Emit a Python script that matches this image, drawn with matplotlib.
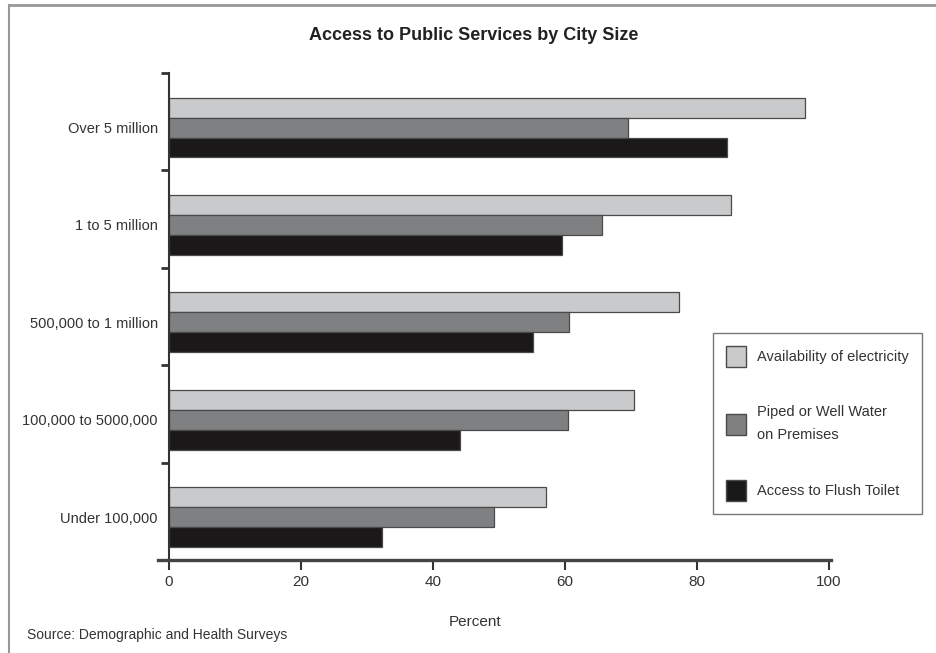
import matplotlib
matplotlib.use("Agg")
import matplotlib.pyplot as plt
import numpy as np
from matplotlib.patches import Patch
from matplotlib.lines import Line2D

plt.rcParams['font.family'] = ['Liberation Sans', 'DejaVu Sans']

categories = ["Over 5 million", "1 to 5 million", "500,000 to 1 million",
              "100,000 to 5000,000", "Under 100,000"]
electricity = [96.3, 85.1, 77.2, 70.4, 57.1]
water = [69.5, 65.6, 60.6, 60.4, 49.2]
toilet = [84.5, 59.5, 55.1, 44.1, 32.2]
series_names = ["Availability of electricity", "Piped or Well Water\non Premises",
                "Access to Flush Toilet"]
x_ticks = [0, 20, 40, 60, 80, 100]

colors = ["#c9cacb", "#7f8082", "#1b1819"]
edge = "#4a4a4a"

fig = plt.figure(figsize=(9.37, 6.53), dpi=100)
ax = fig.add_axes([169/937, 1-560/653, (829-169)/937, (560-73)/653])

y = np.arange(len(categories))
h = 0.205
for vals, off, c in zip([electricity, water, toilet], [-h, 0, h], colors):
    ax.barh(y + off, vals, height=h, color=c, edgecolor=edge, linewidth=0.9)

ax.set_xlim(0, 100)
ax.set_ylim(len(categories) - 0.56, -0.56)

ax.set_xticks(x_ticks)
ax.set_xticklabels([str(t) for t in x_ticks], fontsize=11, color="#333333")
ax.tick_params(axis='x', length=7, width=1.5, color="#333333", pad=4)

ax.set_yticks(y - 0.56)
ax.set_yticklabels([])
ax.tick_params(axis='y', which='major', length=6, width=2, color="#333333")
ax.set_yticks(y, minor=True)
ax.set_yticklabels(categories, minor=True, fontsize=10.5, color="#333333")
ax.tick_params(axis='y', which='minor', length=0, pad=8)

for s in ['top', 'right']:
    ax.spines[s].set_visible(False)
ax.spines['left'].set_linewidth(1.5)
ax.spines['left'].set_color("#333333")
ax.spines['bottom'].set_visible(False)
ax.add_line(Line2D([-0.017, 1.003], [0, 0], transform=ax.transAxes, color="#444444",
                   linewidth=2.4, clip_on=False, zorder=5))

fig.text(475/937, 1-622/653, "Percent", ha='center', va='center',
         fontsize=11, color="#333333")
fig.text(27/937, 1-635/653, "Source: Demographic and Health Surveys", ha='left', va='center',
         fontsize=10, color="#333333")
fig.text(474/937, 1-36/653, "Access to Public Services by City Size", ha='center', va='center',
         fontsize=13, fontweight='bold', color="#222222")

handles = [Patch(facecolor=c, edgecolor=edge, linewidth=1) for c in colors]
leg = fig.legend(handles, series_names, loc='upper left',
                 bbox_to_anchor=(713/937, 1-333/653), fontsize=10.5,
                 frameon=True, fancybox=False, edgecolor="#555555",
                 handlelength=1.35, handleheight=1.8, labelspacing=2.65,
                 borderpad=0.9, handletextpad=0.75, labelcolor="#333333",
                 borderaxespad=0)
leg.get_frame().set_linewidth(1.0)
for t in leg.get_texts():
    t.set_linespacing(1.75)

# figure border
fig.add_artist(Line2D([9/937, 9/937], [0, 1-5/653], transform=fig.transFigure,
                      color="#999999", linewidth=1.5))
fig.add_artist(Line2D([9/937, 1], [1-5/653, 1-5/653], transform=fig.transFigure,
                      color="#999999", linewidth=2))

fig.savefig("out.png", dpi=100, facecolor="white")
